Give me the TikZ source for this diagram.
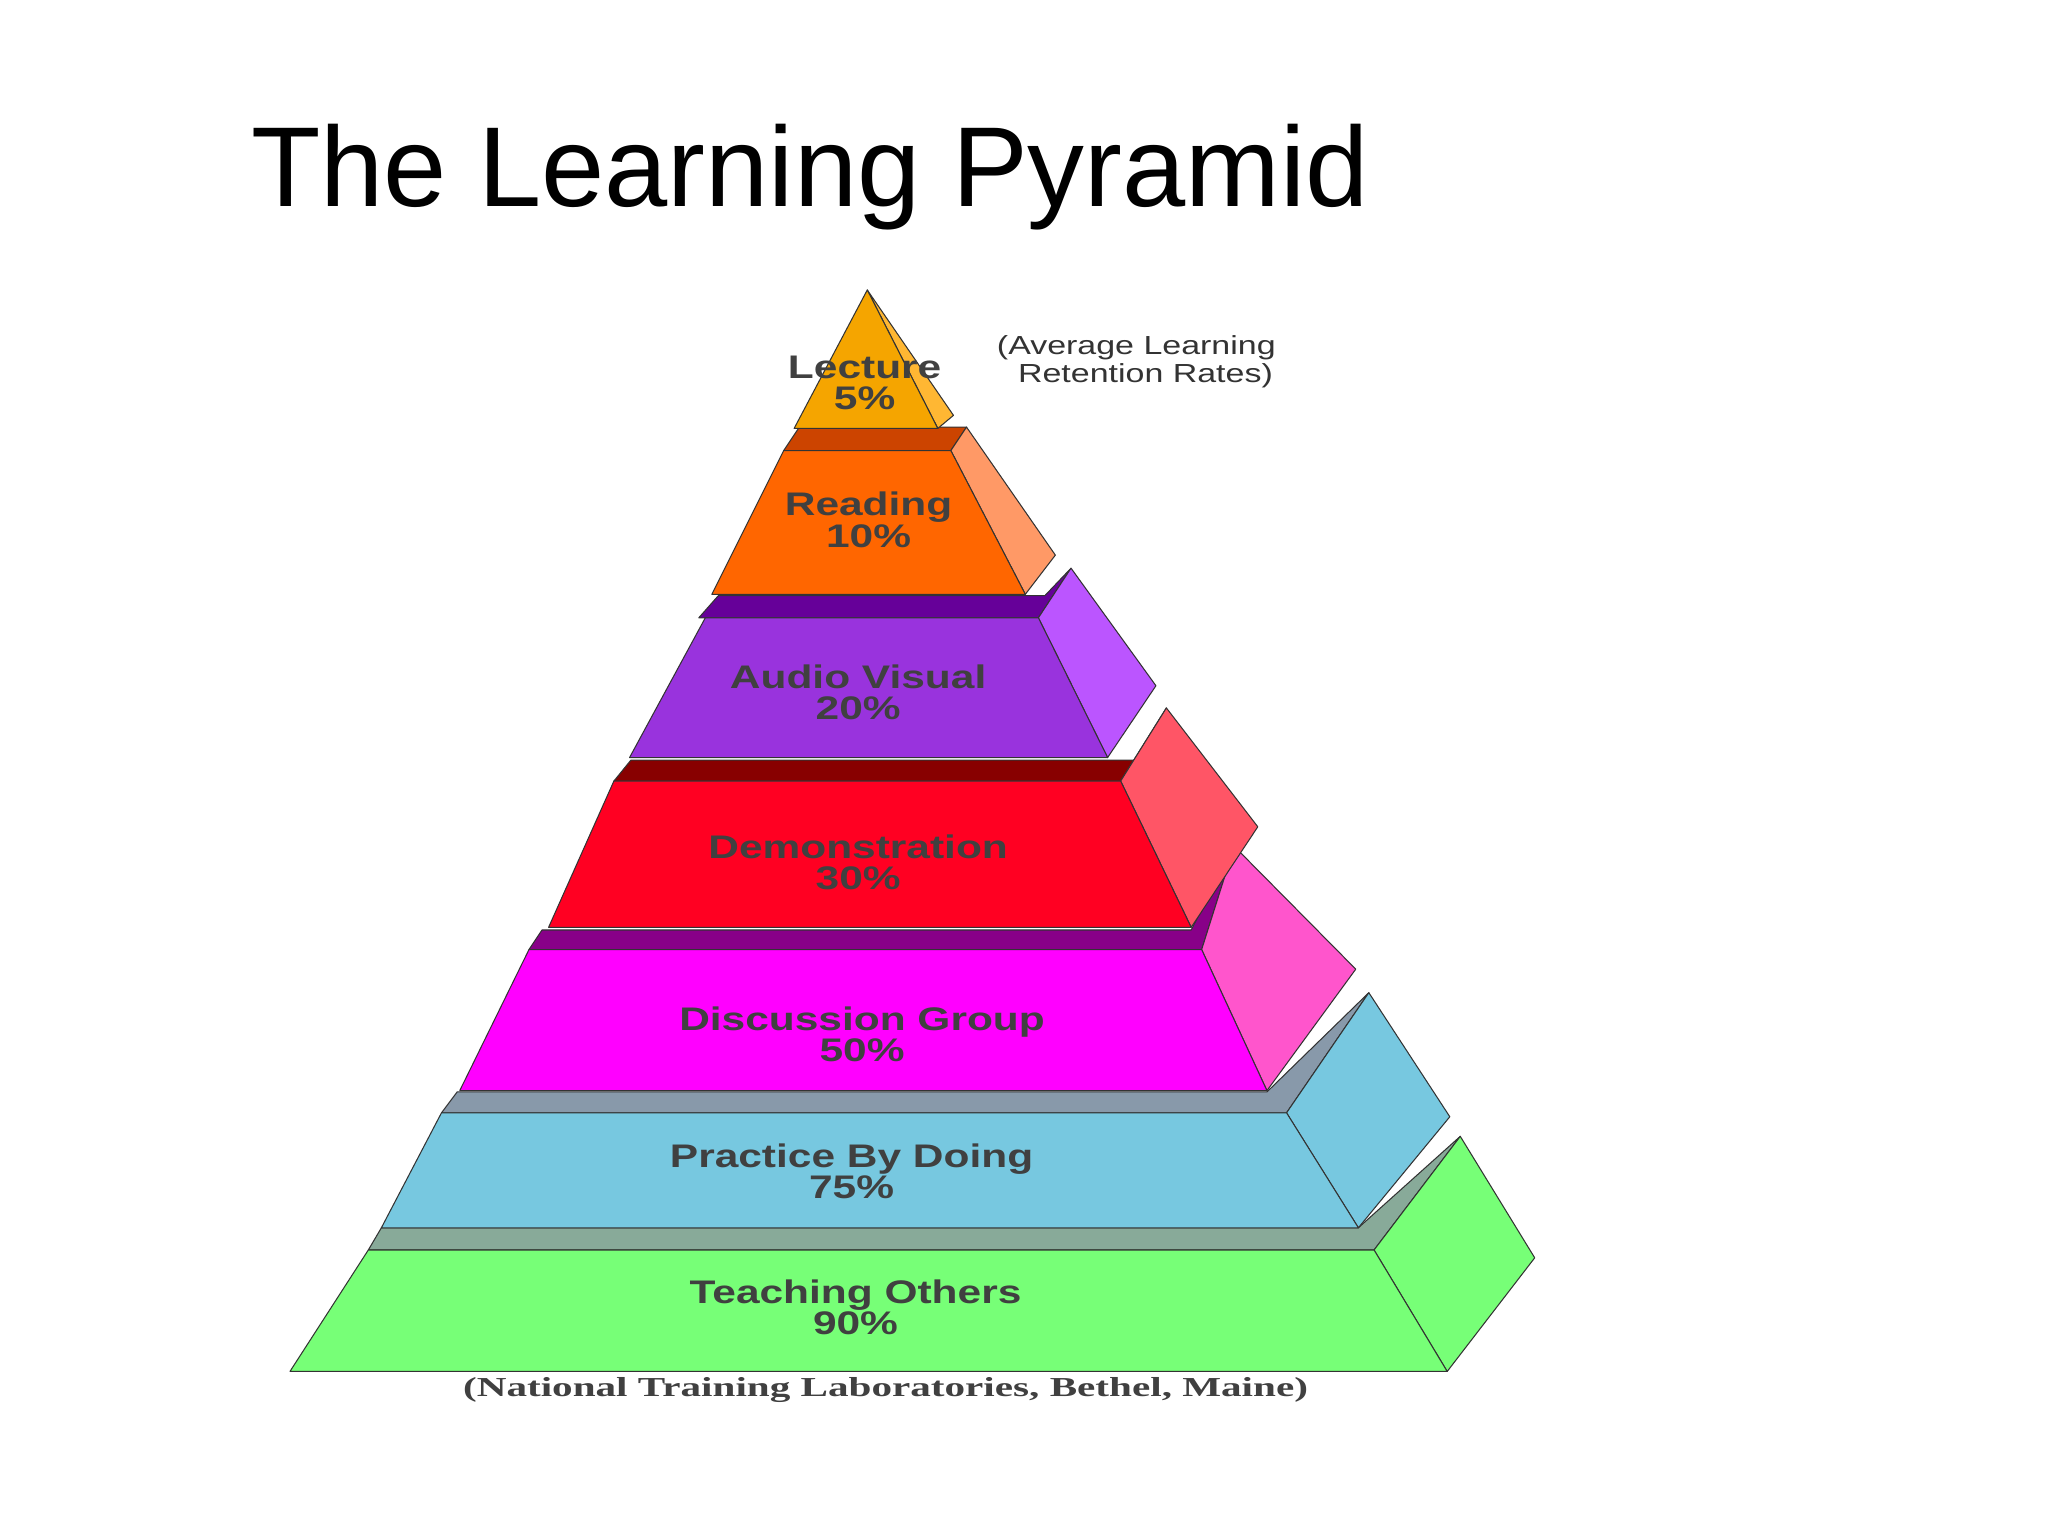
\documentclass[tikz,border=0pt]{standalone}
\usepackage{fontspec}
\setmainfont{Liberation Sans}
\newfontfamily\serifnote{Liberation Serif}
\definecolor{tg}{HTML}{77FF77}\definecolor{tgtop}{HTML}{88AA99}
\definecolor{pb}{HTML}{77C8E0}\definecolor{pbtop}{HTML}{8899AA}\definecolor{pbside}{HTML}{77C8E0}
\definecolor{dg}{HTML}{FF00FF}\definecolor{dgtop}{HTML}{880088}\definecolor{dgside}{HTML}{FF55CC}
\definecolor{dm}{HTML}{FF0022}\definecolor{dmtop}{HTML}{880000}\definecolor{dmside}{HTML}{FF5566}
\definecolor{av}{HTML}{9933DD}\definecolor{avtop}{HTML}{660099}\definecolor{avside}{HTML}{BB55FF}
\definecolor{rd}{HTML}{FF6600}\definecolor{rdtop}{HTML}{CC4400}\definecolor{rdside}{HTML}{FF9966}
\definecolor{lc}{HTML}{F5A500}\definecolor{lcside}{HTML}{FFB733}
\begin{document}
\begin{tikzpicture}[x=1pt,y=-1pt,
  face/.style={draw=black!80,line width=0.8pt,line join=round},
  lbl/.style={align=center,font=\fontsize{25}{26}\selectfont,text=black!75,inner sep=0pt}]
\useasboundingbox (0,0) rectangle (1568,1176);
\fill[white] (0,0) rectangle (1568,1176);
\node[anchor=base west,font=\fontsize{87}{87}\selectfont,inner sep=0pt] (title) at (192,158) {The Learning Pyramid};
% Teaching
\fill[face,fill=tgtop] (282,957)--(292,940)--(1040,940)--(1118,870)--(1052,957)--cycle;
\fill[face,fill=tg] (1052,957)--(1118,870)--(1175,963)--(1108,1050)--cycle;
\fill[face,fill=tg] (282,957)--(1052,957)--(1108,1050)--(222,1050)--cycle;
\node[lbl] (t7) at (655,1001) {\scalebox{1.3}[1]{\bfseries Teaching Others}\\[-2pt]\scalebox{1.3}[1]{\bfseries 90\%}};
% Practice
\fill[face,fill=pbtop] (338,852)--(350,836)--(970,836)--(1048,760)--(985,852)--cycle;
\fill[face,fill=pbside] (985,852)--(1048,760)--(1110,855)--(1040,940)--cycle;
\fill[face,fill=pb] (338,852)--(985,852)--(1040,940)--(292,940)--cycle;
\node[lbl] (t6) at (652,897) {\scalebox{1.3}[1]{\bfseries Practice By Doing}\\[-2pt]\scalebox{1.3}[1]{\bfseries 75\%}};
% Discussion
\fill[face,fill=dgtop] (405,727)--(415,712)--(912,712)--(945,648)--(920,727)--cycle;
\fill[face,fill=dgside] (920,727)--(945,648)--(1038,742)--(970,835)--cycle;
\fill[face,fill=dg] (405,727)--(920,727)--(970,835)--(352,835)--cycle;
\node[lbl] (t5) at (660,792) {\scalebox{1.3}[1]{\bfseries Discussion Group}\\[-2pt]\scalebox{1.3}[1]{\bfseries 50\%}};
% Demonstration
\fill[face,fill=dmtop] (470,598)--(483,582)--(870,582)--(893,542)--(858,598)--cycle;
\fill[face,fill=dmside] (858,598)--(893,542)--(963,633)--(912,710)--cycle;
\fill[face,fill=dm] (470,598)--(858,598)--(912,710)--(420,710)--cycle;
\node[lbl] (t4) at (657,660) {\scalebox{1.3}[1]{\bfseries Demonstration}\\[-2pt]\scalebox{1.3}[1]{\bfseries 30\%}};
% Audio visual
\fill[face,fill=avtop] (535,473)--(550,456)--(800,456)--(820,435)--(795,473)--cycle;
\fill[face,fill=avside] (795,473)--(820,435)--(885,525)--(848,580)--cycle;
\fill[face,fill=av] (540,473)--(795,473)--(848,580)--(482,580)--cycle;
\node[lbl] (t3) at (657,530) {\scalebox{1.3}[1]{\bfseries Audio Visual}\\[-2pt]\scalebox{1.3}[1]{\bfseries 20\%}};
% Reading
\fill[face,fill=rdtop] (600,345)--(612,327)--(740,327)--(728,345)--cycle;
\fill[face,fill=rdside] (728,345)--(740,327)--(808,425)--(785,455)--cycle;
\fill[face,fill=rd] (600,345)--(728,345)--(785,455)--(545,455)--cycle;
\node[lbl] (t2) at (665,398) {\scalebox{1.3}[1]{\bfseries Reading}\\[-2pt]\scalebox{1.3}[1]{\bfseries 10\%}};
% Lecture
\fill[face,fill=lcside] (664,222)--(730,318)--(718,328)--cycle;
\fill[face,fill=lc] (664,222)--(718,328)--(608,328)--cycle;
\node[lbl] (t1) at (662,293) {\scalebox{1.3}[1]{\bfseries Lecture}\\[-2pt]\scalebox{1.3}[1]{\bfseries 5\%}};
% notes
\node[align=center,font=\fontsize{20}{21}\selectfont,text=black!80,inner sep=0pt] (note) at (870,277) {\scalebox{1.3}[1]{(Average Learning}\\\hspace*{14pt}\scalebox{1.3}[1]{Retention Rates)}};
\node[font=\serifnote\fontsize{21}{21}\selectfont\bfseries,text=black!75,inner sep=0pt] (src) at (678,1064) {\scalebox{1.5}[1]{(National Training Laboratories, Bethel, Maine)}};
\end{tikzpicture}
\end{document}
